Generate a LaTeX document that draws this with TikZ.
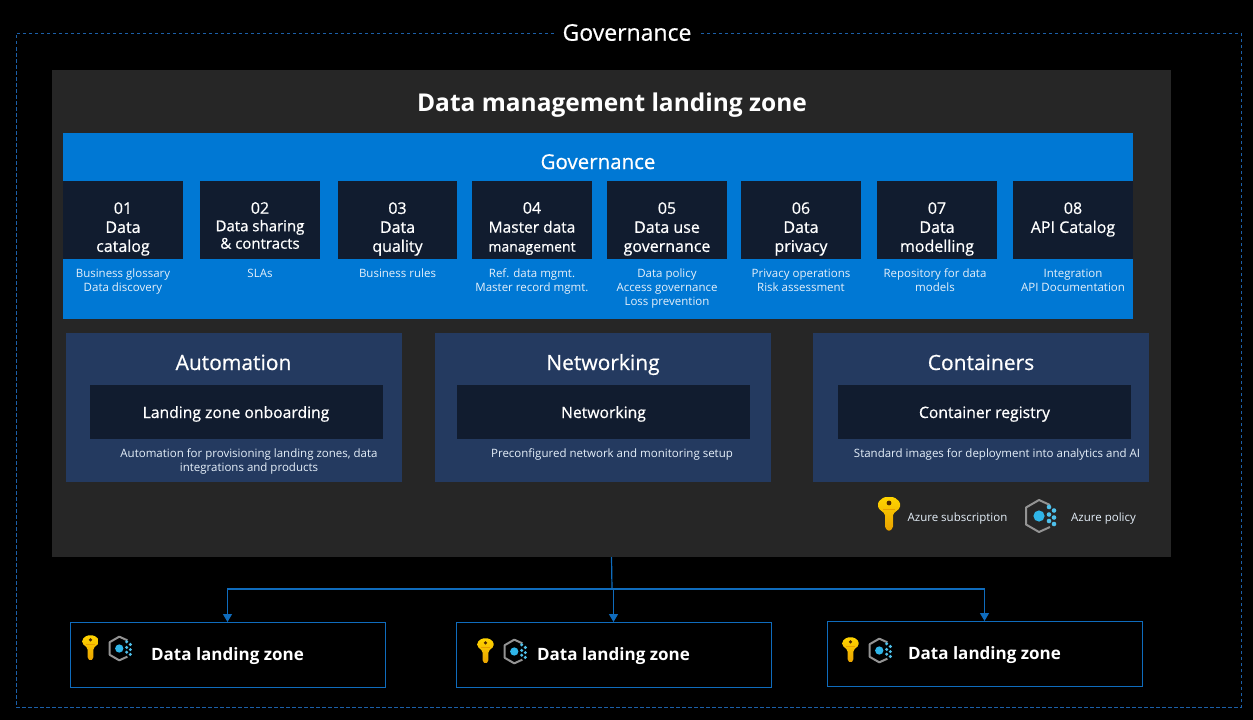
\documentclass[tikz,border=0pt]{standalone}
\usepackage{fontspec}
\setmainfont{Open Sans}
\newfontfamily\medface[FakeBold=0.6]{Open Sans}
\usetikzlibrary{arrows.meta}
\definecolor{paneldark}{HTML}{262626}
\definecolor{azureblue}{HTML}{0078D4}
\definecolor{navybox}{HTML}{111C2F}
\definecolor{slatebox}{HTML}{243A60}
\definecolor{linkblue}{HTML}{0F6CBD}
\definecolor{dashblue}{HTML}{1B5FA8}
\definecolor{palewhite}{HTML}{E6F0FA}
\definecolor{keytop}{HTML}{FFD400}
\definecolor{keybot}{HTML}{E8A000}
\definecolor{policyblue}{HTML}{2FB5E8}
\newcommand{\fs}[1]{\fontsize{#1pt}{#1pt}\selectfont}
\newcommand{\fl}[2]{\fontsize{#1pt}{#2pt}\selectfont}
\tikzset{
  x=1pt,y=-1pt,
  rbox/.style={inner sep=0pt,outer sep=0pt,anchor=center},
  navy/.style={rbox,fill=navybox,minimum width=120pt,minimum height=78pt},
  navytext/.style={inner sep=0pt,align=center,text=white,font=\medface\fl{16}{19}},
  desc/.style={inner sep=0pt,align=center,text=palewhite,font=\fl{11.5}{14},anchor=north},
  slate/.style={rbox,fill=slatebox,minimum width=336pt,minimum height=149pt},
  inner/.style={rbox,fill=navybox,minimum width=293pt,minimum height=54pt},
  innertext/.style={inner sep=0pt,text=white,font=\medface\fs{15.7},anchor=base},
  head/.style={inner sep=0pt,text=white,font=\medface\fs{21},anchor=base},
  dlz/.style={rbox,draw=linkblue,line width=1pt,minimum width=315pt,minimum height=65pt},
  dlztext/.style={inner sep=0pt,text=white,font=\bfseries\fs{17},anchor=base},
  conn/.style={draw=linkblue,line width=1.2pt,-{Triangle[length=8pt,width=9pt]}},
  plainconn/.style={draw=linkblue,line width=1.2pt},
  pics/azkey/.style={code={
    \fill[top color=keytop,bottom color=keybot,rounded corners=1.5pt] (-4,0) -- (-11,-6) -- (-11,-12) -- (-5,-17) -- (5,-17) -- (11,-12) -- (11,-6) -- (4,0) -- (4,14) -- (0,17.5) -- (-4,14) -- cycle;
    \fill[black!70!orange] (0,-11) circle (2.4);
    \draw[keybot,line width=.7pt] (-6,-4.5) -- (6,-4.5);
  }},
  pics/azpolicy/.style={code={
    \draw[gray!85,line width=2pt,line join=round] (10,-11) -- (-1,-16) -- (-14,-8.5) -- (-14,8.5) -- (-1,16) -- (10,11);
    \fill[policyblue] (-1,0) circle (5.6);
    \foreach \px/\py in {9/-9,14/-5.5,9/-1.5,14/1.5,9/5,14/8}{\fill[policyblue!85!white] (\px,\py) circle (2.3);}
  }},
}
\begin{document}
\begin{tikzpicture}
\path[use as bounding box,fill=black] (0,0) rectangle (1253,720);
\node[draw=dashblue,dash pattern=on 3.5pt off 2.5pt,line width=.8pt,inner sep=0pt,minimum width=1225pt,minimum height=674pt] (outer) at (628.5,370) {};
\node[fill=black,text=white,font=\medface\fs{23},inner xsep=8pt,inner ysep=1pt] (govtop) at (627,32.5) {Governance};
\node[rbox,fill=paneldark,minimum width=1119pt,minimum height=487pt] (panel) at (611.5,313.5) {};
\node[inner sep=0pt,text=white,font=\bfseries\fs{24.5},anchor=base] (panelhead) at (612,111) {Data management landing zone};
\node[rbox,fill=azureblue,minimum width=1070pt,minimum height=186pt] (govband) at (598,226) {};
\node[inner sep=0pt,text=white,font=\medface\fs{20.5},anchor=base] (govhead) at (598,169) {Governance};
% numbered boxes
\node[navy] (b1) at (123,220) {};
\node[navy] (b2) at (260,220) {};
\node[navy,minimum width=119pt] (b3) at (397.5,220) {};
\node[navy] (b4) at (532,220) {};
\node[navy] (b5) at (667,220) {};
\node[navy] (b6) at (801,220) {};
\node[navy] (b7) at (937,220) {};
\node[navy] (b8) at (1073,220) {};
\node[navytext] (n1) at (123,229) {01\\Data\\catalog};
\node[navytext,font=\medface\fl{15}{17.5}] (n2) at (260,225.5) {{\fontsize{16}{17.5}\selectfont 02}\\Data sharing\\\& contracts};
\node[navytext] (n3) at (397.5,229) {03\\Data\\quality};
\node[navytext] (n4) at (532,228.5) {04\\{\fontsize{15.5}{19}\selectfont Master data}\\{\fontsize{14}{19}\selectfont management}};
\node[navytext] (n5) at (667,229) {05\\Data use\\governance};
\node[navytext] (n6) at (801,229) {06\\Data\\privacy};
\node[navytext] (n7) at (937,229) {07\\Data\\modelling};
\node[navytext] (n8) at (1073,219.5) {08\\API Catalog};
\node[desc] (d1) at (123,268.5) {Business glossary\\Data discovery};
\node[desc] (d2) at (260,268.5) {SLAs};
\node[desc] (d3) at (397.5,268.5) {Business rules};
\node[desc] (d4) at (532,268.5) {Ref. data mgmt.\\Master record mgmt.};
\node[desc] (d5) at (667,268.5) {Data policy\\Access governance\\Loss prevention};
\node[desc] (d6) at (801,268.5) {Privacy operations\\Risk assessment};
\node[desc] (d7) at (935,268.5) {Repository for data\\models};
\node[desc] (d8) at (1073,268.5) {Integration\\API Documentation};
% service panels
\node[slate] (s1) at (234,407.5) {};
\node[slate] (s2) at (603,407.5) {};
\node[slate] (s3) at (981,407.5) {};
\node[head] (h1) at (233.5,370) {Automation};
\node[head] (h2) at (603,370) {Networking};
\node[head] (h3) at (981,370) {Containers};
\node[inner] (i1) at (236.5,412) {};
\node[inner] (i2) at (603.5,412) {};
\node[inner] (i3) at (984.5,412) {};
\node[innertext] (it1) at (236,418) {Landing zone onboarding};
\node[innertext] (it2) at (603.5,418) {Networking};
\node[innertext] (it3) at (984.5,418) {Container registry};
\node[desc] (t1) at (249,448) {Automation for provisioning landing zones, data\\integrations and products};
\node[desc] (t2) at (612,448) {Preconfigured network and monitoring setup};
\node[desc] (t3) at (997,448) {Standard images for deployment into analytics and AI};
% legend
\pic at (889,514) {azkey};
\node[inner sep=0pt,text=palewhite,font=\fs{11.5},anchor=base] (lg1) at (957.5,521) {Azure subscription};
\pic at (1040,516) {azpolicy};
\node[inner sep=0pt,text=palewhite,font=\fs{11.5},anchor=base] (lg2) at (1103.5,521) {Azure policy};
% landing zones
\node[dlz] (z1) at (227.5,654.5) {};
\node[dlz] (z2) at (613.5,654.5) {};
\node[dlz] (z3) at (984.5,653.5) {};
\node[dlztext] (zt1) at (227.5,660) {Data landing zone};
\node[dlztext] (zt2) at (613.5,660) {Data landing zone};
\node[dlztext] (zt3) at (984.5,659) {Data landing zone};
\pic[scale=.74] at (90.5,648) {azkey};
\pic[scale=.74] at (120,648.5) {azpolicy};
\pic[scale=.74] at (485.5,651) {azkey};
\pic[scale=.74] at (515,651.5) {azpolicy};
\pic[scale=.74] at (850.5,650) {azkey};
\pic[scale=.74] at (880,650.5) {azpolicy};
% connectors
\coordinate (junction) at (612,589);
\draw[plainconn] (panel.south) -- (junction);
\draw[conn] (junction) -| (z1.north);
\draw[conn] (junction) -| (z3.north);
\draw[conn] (z2.north |- junction) -- (z2.north);
\end{tikzpicture}
\end{document}
